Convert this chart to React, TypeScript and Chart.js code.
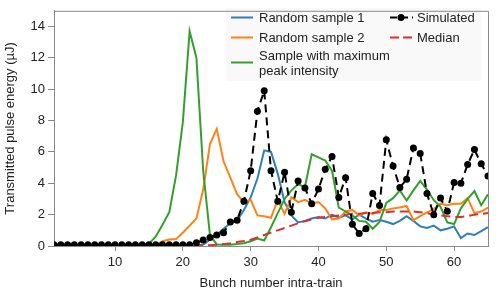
import React, { useEffect, useRef } from "react";
import { Chart, registerables } from "chart.js";

Chart.register(...registerables);

const bunches: number[] = Array.from({ length: 65 }, (_, i) => i + 1);
const xTickValues = [10, 20, 30, 40, 50, 60];
const yTickValues = [0, 2, 4, 6, 8, 10, 12, 14];

const simulated = [
  0.08, 0.08, 0.08, 0.08, 0.08, 0.08, 0.08, 0.08, 0.08, 0.08,
  0.08, 0.08, 0.08, 0.08, 0.08, 0.08, 0.08, 0.08, 0.08, 0.08,
  0.08, 0.2, 0.38, 0.55, 0.7, 0.84, 1.53, 1.64, 2.85, 4.8,
  8.6, 9.9, 4.8, 2.85, 4.7, 2.16, 4.15, 3.7, 2.7, 3.63,
  4.9, 5.7, 3.1, 4.36, 1.38, 0.8, 1.1, 3.35, 2.58, 6.77,
  5.1, 3.73, 4.26, 6.25, 5.9, 3.35, 2.0, 3.06, 2.22, 4.05,
  4.0, 5.2, 6.15, 5.24, 4.47,
];

const randomSample1 = [
  0.02, 0.02, 0.02, 0.02, 0.02, 0.02, 0.02, 0.02, 0.02, 0.02,
  0.02, 0.02, 0.02, 0.02, 0.02, 0.02, 0.02, 0.02, 0.02, 0.02,
  0.02, 0.02, 0.1, 0.4, 0.7, 1.1, 1.45, 1.6, 2.3, 3.1,
  4.3, 6.1, 6.0, 4.6, 2.8, 1.95, 1.5, 1.6, 1.75, 1.85,
  1.75, 2.0, 1.8, 1.95, 1.7, 2.0, 1.75, 1.55, 1.65, 1.55,
  1.4, 1.6, 1.9, 1.6, 1.25, 1.15, 1.3, 1.0, 1.1, 1.25,
  0.5, 0.8, 0.7, 0.95, 1.2,
];

const randomSample2 = [
  0.02, 0.02, 0.02, 0.02, 0.02, 0.02, 0.02, 0.02, 0.02, 0.02,
  0.02, 0.02, 0.02, 0.02, 0.02, 0.05, 0.3, 0.42, 0.44, 0.85,
  1.3, 1.75, 3.6, 6.5, 7.47, 5.4, 4.36, 3.3, 2.8, 2.95,
  1.95, 1.9, 1.8, 2.95, 2.05, 3.1, 2.8, 2.95, 2.7, 2.8,
  2.4, 1.7, 1.75, 2.2, 2.3, 1.95, 2.15, 2.05, 2.3, 2.3,
  2.4, 2.45, 2.55, 1.65, 1.9, 2.15, 2.35, 2.7, 2.6, 2.7,
  2.7, 3.06, 2.1, 2.2, 2.45,
];

const maxPeakSample = [
  0.02, 0.02, 0.02, 0.02, 0.02, 0.02, 0.02, 0.02, 0.02, 0.02,
  0.02, 0.02, 0.02, 0.02, 0.15, 0.6, 1.35, 2.16, 4.5, 7.9,
  13.7, 12.0, 4.8, 0.7, 0.1, 0.08, 0.08, 0.12, 0.18, 0.3,
  0.48, 0.35, 1.2, 2.1, 3.0, 3.55, 3.94, 3.75, 5.85, 5.65,
  5.45, 4.8, 2.45, 2.2, 1.95, 1.6, 1.55, 1.1, 1.53, 2.75,
  3.05, 3.55, 2.9, 3.55, 4.15, 3.6, 2.92, 2.5, 1.5, 1.4,
  2.4, 3.0, 3.5, 2.6, 3.3,
];

const median = [
  0.02, 0.02, 0.02, 0.02, 0.02, 0.02, 0.02, 0.02, 0.02, 0.02,
  0.02, 0.02, 0.02, 0.02, 0.02, 0.02, 0.02, 0.02, 0.02, 0.02,
  0.02, 0.02, 0.02, 0.05, 0.08, 0.12, 0.18, 0.25, 0.32, 0.4,
  0.55, 0.7, 0.85, 1.0, 1.15, 1.3, 1.45, 1.58, 1.7, 1.8,
  1.85, 1.9, 1.95, 2.0, 2.05, 2.05, 2.1, 2.1, 2.15, 2.15,
  2.2, 2.2, 2.2, 2.2, 2.15, 2.1, 2.0, 1.95, 1.9, 1.85,
  1.85, 1.9, 2.0, 2.05, 2.1,
];

const BLUE = "#2f7dbd";
const ORANGE = "#ff8214";
const GREEN = "#33a02c";
const RED = "#d8302f";
const BLACK = "#000000";
const FONT = '"Liberation Sans", Arial, Helvetica, sans-serif';
const TEXT = "#222222";
const AXIS = "#8a8a8a";

const toPoints = (vals: number[]) => bunches.map((b, i) => ({ x: b, y: vals[i] }));

const legendPlugin = {
  id: "customLegend",
  beforeDatasetsDraw(chart: any) {
    const ctx = chart.ctx;
    ctx.save();
    ctx.fillStyle = "#f9f9f9";
    ctx.fillRect(226, 8, 255, 73);
    ctx.restore();
  },
  afterDatasetsDraw(chart: any) {
    const ctx = chart.ctx;
    const a = chart.chartArea;
    ctx.save();
    ctx.strokeStyle = AXIS;
    ctx.lineWidth = 1;
    ctx.beginPath();
    ctx.moveTo(a.left, a.top + 0.5);
    ctx.lineTo(a.right + 0.5, a.top + 0.5);
    ctx.lineTo(a.right + 0.5, a.bottom);
    ctx.stroke();

    ctx.font = `13px ${FONT}`;
    ctx.fillStyle = TEXT;
    ctx.textBaseline = "middle";
    ctx.textAlign = "left";
    const items1 = [
      { c: BLUE, y: 17.5, lines: ["Random sample 1"], ty: [18] },
      { c: ORANGE, y: 37.5, lines: ["Random sample 2"], ty: [38] },
      { c: GREEN, y: 62.5, lines: ["Sample with maximum", "peak intensity"], ty: [56.5, 71.5] },
    ];
    ctx.lineWidth = 2;
    for (const it of items1) {
      ctx.strokeStyle = it.c;
      ctx.setLineDash([]);
      ctx.beginPath();
      ctx.moveTo(231, it.y);
      ctx.lineTo(253, it.y);
      ctx.stroke();
      it.lines.forEach((t, i) => ctx.fillText(t, 259, it.ty[i]));
    }
    // Simulated
    ctx.strokeStyle = BLACK;
    ctx.setLineDash([7, 4]);
    ctx.beginPath();
    ctx.moveTo(390, 17.5);
    ctx.lineTo(413, 17.5);
    ctx.stroke();
    ctx.setLineDash([]);
    ctx.fillStyle = BLACK;
    ctx.beginPath();
    ctx.arc(401, 17.5, 3.5, 0, Math.PI * 2);
    ctx.fill();
    ctx.fillStyle = TEXT;
    ctx.fillText("Simulated", 417, 18);
    // Median
    ctx.strokeStyle = RED;
    ctx.setLineDash([9, 4]);
    ctx.beginPath();
    ctx.moveTo(390, 37.5);
    ctx.lineTo(413, 37.5);
    ctx.stroke();
    ctx.setLineDash([]);
    ctx.fillText("Median", 417, 38);
    ctx.restore();
  },
};

export default function App() {
  const canvasRef = useRef<HTMLCanvasElement | null>(null);

  useEffect(() => {
    document.body.style.margin = "0";
    const canvas = canvasRef.current;
    if (!canvas) return;
    const chart = new Chart(canvas, {
      type: "line",
      data: {
        datasets: [
          {
            label: "Simulated",
            data: toPoints(simulated),
            borderColor: BLACK,
            backgroundColor: BLACK,
            borderWidth: 2,
            borderDash: [8, 5],
            pointRadius: 3.5,
            pointBackgroundColor: BLACK,
            pointBorderWidth: 0,
            order: 0,
          },
          {
            label: "Median",
            data: toPoints(median),
            borderColor: RED,
            borderWidth: 2,
            borderDash: [9, 5],
            pointRadius: 0,
            order: 1,
          },
          {
            label: "Sample with maximum peak intensity",
            data: toPoints(maxPeakSample),
            borderColor: GREEN,
            borderWidth: 2,
            pointRadius: 0,
            order: 2,
          },
          {
            label: "Random sample 2",
            data: toPoints(randomSample2),
            borderColor: ORANGE,
            borderWidth: 2,
            pointRadius: 0,
            order: 3,
          },
          {
            label: "Random sample 1",
            data: toPoints(randomSample1),
            borderColor: BLUE,
            borderWidth: 2,
            pointRadius: 0,
            order: 4,
          },
        ],
      },
      options: {
        animation: false,
        responsive: false,
        layout: { padding: { top: 7, right: 12, left: 0, bottom: 0 } },
        plugins: { legend: { display: false }, tooltip: { enabled: false } },
        elements: { line: { tension: 0 } },
        scales: {
          x: {
            type: "linear",
            min: 1,
            max: 65,
            afterBuildTicks: (s: any) => {
              s.ticks = xTickValues.map((v) => ({ value: v }));
            },
            afterFit: (s: any) => {
              s.height = 50;
            },
            grid: { drawOnChartArea: false, tickLength: 5, color: AXIS },
            border: { color: AXIS },
            ticks: { font: { size: 13, family: FONT }, color: TEXT, padding: 4, maxRotation: 0 },
            title: {
              display: true,
              text: "Bunch number intra-train",
              font: { size: 13, family: FONT },
              color: TEXT,
              padding: { top: 0, bottom: 5 },
            },
          },
          y: {
            type: "linear",
            min: 0,
            max: 15,
            afterBuildTicks: (s: any) => {
              s.ticks = yTickValues.map((v) => ({ value: v }));
            },
            afterFit: (s: any) => {
              s.width = 54;
            },
            grid: { drawOnChartArea: false, tickLength: 6, color: AXIS },
            border: { color: AXIS },
            ticks: { font: { size: 13, family: FONT }, color: TEXT, padding: 3 },
            title: {
              display: true,
              text: "Transmitted pulse energy (µJ)",
              font: { size: 13, family: FONT },
              color: TEXT,
              padding: { top: 3, bottom: 0 },
            },
          },
        },
      },
      plugins: [legendPlugin],
    } as any);
    return () => chart.destroy();
  }, []);

  return (
    <div style={{ width: 500, height: 296 }}>
      <canvas ref={canvasRef} width={500} height={296} style={{ width: 500, height: 296, display: "block" }} />
    </div>
  );
}
